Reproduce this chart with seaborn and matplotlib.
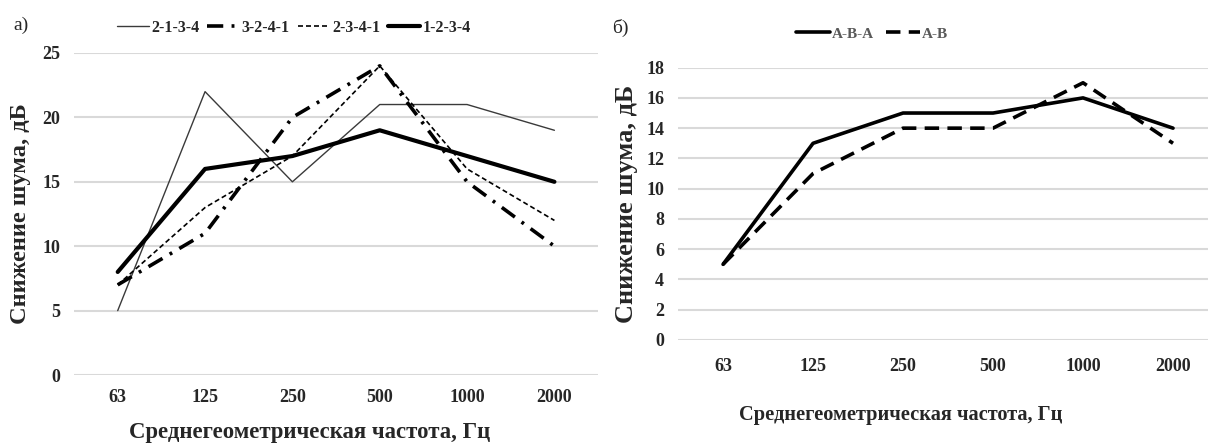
import numpy as np
import pandas as pd
import matplotlib
matplotlib.use("Agg")
import matplotlib.pyplot as plt
import seaborn as sns

# ---- data ----
freqs = ["63", "125", "250", "500", "1000", "2000"]
s_2134 = [5, 22, 15, 21, 21, 19]
s_3241 = [7, 11, 20, 24, 15, 10]
s_2341 = [7, 13, 17, 24, 16, 12]
s_1234 = [8, 16, 17, 19, 17, 15]
left_names = ["2-1-3-4", "3-2-4-1", "2-3-4-1", "1-2-3-4"]

s_aba = [5, 13, 15, 15, 16, 14]
s_ab = [5, 11, 14, 14, 17, 13]
right_names = ["A-B-A", "A-B"]

left_yticks = [0, 5, 10, 15, 20, 25]
right_yticks = [0, 2, 4, 6, 8, 10, 12, 14, 16, 18]

ylabel = "Снижение шума, дБ"
xlabel = "Среднегеометрическая частота, Гц"

sns.set_theme(style="white")
plt.rcParams['font.family'] = ['Liberation Serif', 'DejaVu Serif']

fig = plt.figure(figsize=(12.08, 4.45), dpi=100)
axL = fig.add_axes([0.0613, 0.1573, 0.4338, 0.7236])
axR = fig.add_axes([0.5613, 0.236, 0.447, 0.612])

x = np.arange(len(freqs))

styles_left = [
    dict(color="#3a3a3a", lw=1.0, ls="-"),
    dict(color="black", lw=2.6, ls=(0, (4.5, 2.3, 0.8, 2.3))),
    dict(color="black", lw=1.2, ls=(0, (3, 1.8))),
    dict(color="black", lw=3.0, ls="-"),
]
left_data = [s_2134, s_3241, s_2341, s_1234]
for name, vals, st in zip(left_names, left_data, styles_left):
    sns.lineplot(x=x, y=vals, ax=axL, color=st["color"], linewidth=st["lw"],
                 linestyle=st["ls"], label=name, legend=False)

styles_right = [
    dict(color="black", lw=2.6, ls="-"),
    dict(color="black", lw=2.6, ls=(0, (4, 2.3))),
]
for name, vals, st in zip(right_names, [s_aba, s_ab], styles_right):
    sns.lineplot(x=x, y=vals, ax=axR, color=st["color"], linewidth=st["lw"],
                 linestyle=st["ls"], label=name, legend=False)

for ax, yt, lim in [(axL, left_yticks, 25), (axR, right_yticks, 18)]:
    ax.set_xlim(-0.5, len(freqs) - 0.5)
    ax.set_ylim(0, lim)
    ax.set_yticks(yt)
    ax.set_xticks(x)
    ax.set_xticklabels(freqs)
    ax.grid(axis="y", color="#d9d9d9", linewidth=1.5)
    ax.set_axisbelow(True)
    for sp in ax.spines.values():
        sp.set_visible(False)
    ax.tick_params(axis="both", length=0, labelsize=13, pad=10)
    for lab in ax.get_xticklabels() + ax.get_yticklabels():
        lab.set_fontweight("bold")

axR.tick_params(axis="x", pad=13)

axL.set_ylabel(ylabel, fontsize=17.6, fontweight="bold", labelpad=8)
axR.set_ylabel(ylabel, fontsize=19, fontweight="bold", labelpad=6)

axL.set_xlabel(xlabel, fontsize=16.4, fontweight="bold")
axL.xaxis.set_label_coords(0.45, -0.145)
axR.set_xlabel(xlabel, fontsize=14.7, fontweight="bold")
axR.xaxis.set_label_coords(0.413, -0.24)

legL = fig.legend(handles=axL.get_lines(), labels=left_names, loc="center",
                  bbox_to_anchor=(0.243, 0.937), ncol=4, frameon=False,
                  handlelength=2.0, columnspacing=0.5, handletextpad=0.15,
                  prop=dict(family="Liberation Serif", weight="bold", size=11.5))
legR = fig.legend(handles=axR.get_lines(), labels=right_names, loc="center",
                  bbox_to_anchor=(0.722, 0.924), ncol=2, frameon=False,
                  handlelength=2.2, columnspacing=0.8, handletextpad=0.15,
                  prop=dict(family="Liberation Serif", weight="bold", size=11))
for t in legR.get_texts():
    t.set_color("#595959")

fig.text(0.011, 0.943, "а)", fontsize=14, ha="left", va="center")
fig.text(0.507, 0.937, "б)", fontsize=14, ha="left", va="center")

fig.savefig("out.png", dpi=100)
